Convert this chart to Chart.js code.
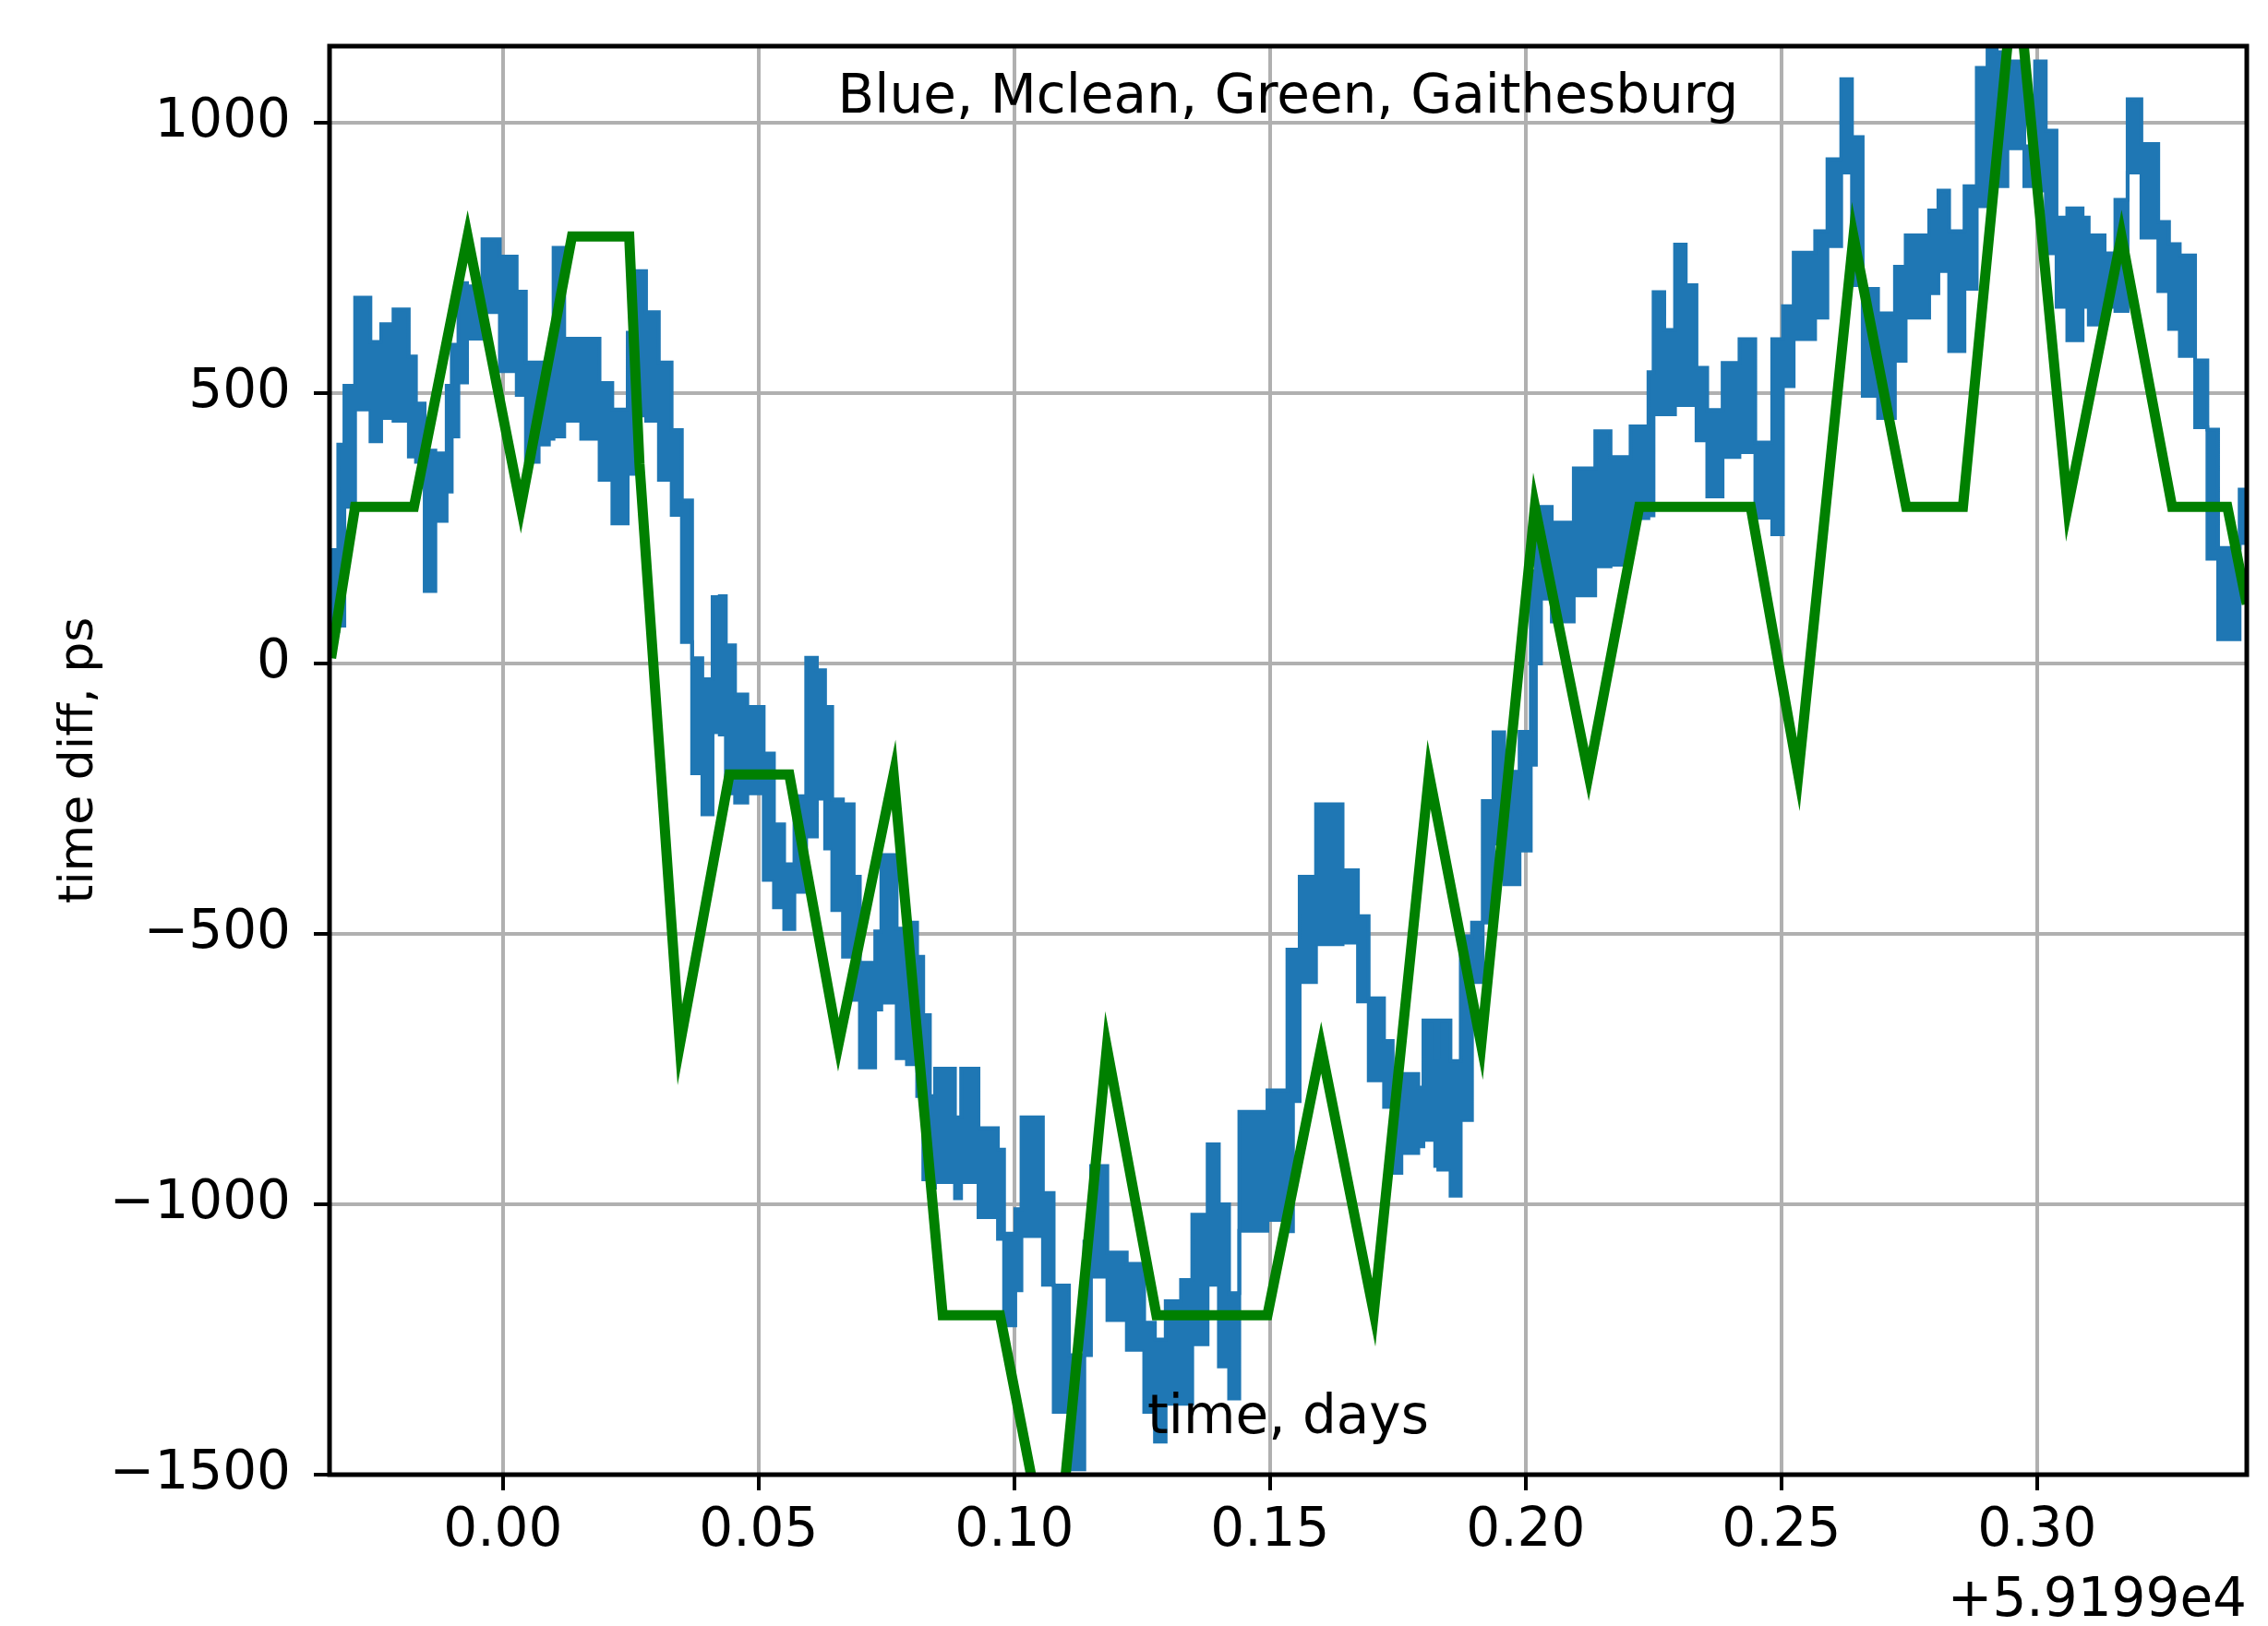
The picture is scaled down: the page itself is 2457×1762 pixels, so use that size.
<!DOCTYPE html>
<html>
<head>
<meta charset="utf-8">
<script src="https://cdn.jsdelivr.net/npm/chart.js@4.4.1/dist/chart.umd.min.js"></script>
<style>
  body { margin: 0; background: #fff; }
  canvas { display: block; }
</style>
</head>
<body>
<canvas id="chart" width="2457" height="1762"></canvas>
<script>
// =====================================================
// DATA  (x in days, offset +5.9199e4 ; y in ps)
// =====================================================

// Mclean (blue) - noisy trace, read as top / bottom of the band per x step
const blueX = [-0.0339, -0.0322, -0.0310, -0.0289, -0.0259, -0.0238, -0.0214, -0.0184, -0.0170, -0.0153,
  -0.0132, -0.0110, -0.0100, -0.0087, -0.0070, -0.0040, -0.0006, 0.0027, 0.0045, 0.0070,
  0.0090, 0.0099, 0.0120, 0.0153, 0.0189, 0.0214, 0.0244, 0.0256, 0.0280, 0.0305,
  0.0330, 0.0350, 0.0370, 0.0390, 0.0410, 0.0424, 0.0436, 0.0454, 0.0478, 0.0510,
  0.0530, 0.0550, 0.0570, 0.0593, 0.0614, 0.0630, 0.0644, 0.0665, 0.0686, 0.0698,
  0.0728, 0.0740, 0.0770, 0.0790, 0.0810, 0.0822, 0.0835, 0.0845, 0.0884, 0.0896,
  0.0930, 0.0968, 0.0980, 0.1002, 0.1014, 0.1056, 0.1077, 0.1107, 0.1137, 0.1150,
  0.1182, 0.1220, 0.1254, 0.1275, 0.1296, 0.1326, 0.1348, 0.1378, 0.1400, 0.1420,
  0.1440, 0.1495, 0.1534, 0.1545, 0.1558, 0.1590, 0.1642, 0.1672, 0.1693, 0.1723,
  0.1740, 0.1757, 0.1790, 0.1800, 0.1823, 0.1829, 0.1853, 0.1873, 0.1895, 0.1916,
  0.1937, 0.1958, 0.1988, 0.2010, 0.2020, 0.2030, 0.2051, 0.2094, 0.2136, 0.2166,
  0.2205, 0.2240, 0.2250, 0.2271, 0.2292, 0.2313, 0.2334, 0.2355, 0.2385, 0.2418,
  0.2449, 0.2482, 0.2503, 0.2524, 0.2566, 0.2590, 0.2617, 0.2638, 0.2659, 0.2689,
  0.2722, 0.2743, 0.2789, 0.2807, 0.2828, 0.2858, 0.2882, 0.2903, 0.2921, 0.2942,
  0.2975, 0.2996, 0.3017, 0.3038, 0.3059, 0.3089, 0.3101, 0.3132, 0.3153, 0.3177,
  0.3204, 0.3237, 0.3258, 0.3279, 0.3309, 0.3333, 0.3354, 0.3396, 0.3410];

const blueHi = [210, 405, 514, 677, 595, 628, 655, 568, 481, 394,
  389, 514, 590, 704, 698, 785, 753, 688, 557, 557,
  580, 769, 601, 601, 519, 470, 612, 726, 650, 557,
  432, 302, 10, -29, 123, 125, 34, -57, -80, -166,
  -297, -371, -245, 11, -12, -80, -251, -260, -394, -553,
  -495, -354, -490, -479, -542, -650, -800, -749, -839, -749,
  -859, -899, -1054, -1009, -839, -979, -1150, -1279, -1069, -929,
  -1089, -1110, -1219, -1250, -1179, -1140, -1019, -889, -1000, -1164,
  -829, -789, -529, -529, -394, -260, -382, -467, -619, -698,
  -760, -759, -784, -660, -729, -660, -735, -504, -479, -254,
  -127, -200, -126, 171, 278, 290, 261, 361, 430, 382,
  439, 539, 687, 617, 775, 700, 547, 469, 556, 600,
  409, 600, 661, 760, 800, 933, 1081, 974, 693, 648,
  734, 792, 838, 875, 800, 883, 1102, 1135, 1131, 1114,
  957, 1114, 986, 825, 842, 825, 792, 759, 858, 1044,
  961, 817, 776, 755, 561, 433, 214, 322, 322];

const blueLo = [60, 70, 290, 470, 411, 454, 449, 383, 373, 134,
  264, 318, 420, 520, 601, 650, 541, 497, 373, 405,
  416, 420, 449, 416, 340, 259, 351, 459, 449, 340,
  275, 40, -203, -279, -127, -131, -240, -257, -240, -400,
  -451, -491, -422, -320, -250, -342, -456, -542, -622, -747,
  -640, -627, -730, -741, -800, -954, -969, -959, -989, -959,
  -1024, -1064, -1224, -1159, -1059, -1149, -1384, -1490, -1279, -1134,
  -1214, -1269, -1384, -1439, -1369, -1369, -1259, -1149, -1300, -1359,
  -1049, -1029, -1050, -809, -589, -519, -516, -625, -771, -820,
  -942, -905, -893, -881, -929, -936, -984, -844, -589, -479,
  -333, -408, -346, -187, 0, 120, 78, 126, 180, 183,
  269, 274, 461, 461, 478, 478, 413, 309, 382, 391,
  270, 239, 513, 600, 640, 772, 908, 700, 495, 454,
  560, 640, 685, 726, 578, 693, 846, 883, 883, 953,
  883, 875, 759, 660, 598, 660, 627, 660, 652, 908,
  788, 689, 619, 569, 437, 194, 45, 223, 223];

// Gaithesburg (green) - piecewise line, vertices
const greenX = [-0.0336, -0.0289, -0.0174, -0.0069, 0.0035, 0.0135, 0.0247, 0.0267, 0.0346, 0.0443,
  0.0560, 0.0656, 0.0764, 0.0860, 0.0972, 0.1078, 0.1181, 0.1278, 0.1495, 0.1600,
  0.1703, 0.1811, 0.1913, 0.2018, 0.2123, 0.2222, 0.2440, 0.2533, 0.2641, 0.2744,
  0.2855, 0.2958, 0.3060, 0.3165, 0.3264, 0.3372, 0.3410];
const greenY = [10, 290, 290, 790, 290, 790, 790, 370, -705, -205,
  -205, -705, -205, -1205, -1205, -1720, -710, -1205, -1205, -710,
  -1200, -205, -705, 290, -205, 290, 290, -205, 790, 290,
  290, 1300, 290, 790, 290, 290, 110];

// axes
const xTicks = [0.00, 0.05, 0.10, 0.15, 0.20, 0.25, 0.30];
const yTicks = [-1500, -1000, -500, 0, 500, 1000];
const xRange = [-0.0339, 0.341];
const yRange = [-1500, 1142];

// texts
const titleText  = 'Blue, Mclean, Green, Gaithesburg';
const xLabel     = 'time, days';
const yLabel     = 'time diff, ps';
const offsetText = '+5.9199e4';

// =====================================================
// DRAWING
// =====================================================

const BLUE  = '#1f77b4';
const GREEN = '#008000';
const FONT  = "'DejaVu Sans'";

// frame + free texts (title / labels sit inside the axes like the original)
const textPlugin = {
  id: 'texts',
  afterDraw(chart) {
    const { ctx, chartArea: a } = chart;
    ctx.save();
    ctx.strokeStyle = '#000';
    ctx.lineWidth = 5;
    ctx.strokeRect(a.left, a.top, a.right - a.left, a.bottom - a.top);

    ctx.fillStyle = '#000';
    ctx.font = `58px ${FONT}`;
    ctx.textAlign = 'center';
    ctx.textBaseline = 'middle';
    const cx = (a.left + a.right) / 2;
    ctx.fillText(titleText, cx, a.top + 57);
    ctx.fillText(xLabel, cx, a.bottom - 60);

    ctx.textAlign = 'right';
    ctx.fillText(offsetText, a.right, a.bottom + 138);

    // rotated y label
    ctx.translate(86, (a.top + a.bottom) / 2);
    ctx.rotate(-Math.PI / 2);
    ctx.textAlign = 'center';
    ctx.font = `52px ${FONT}`;
    ctx.fillText(yLabel, 0, 0);
    ctx.restore();
  }
};

const toPts = (xs, ys) => xs.map((x, i) => ({ x: x, y: ys[i] }));

new Chart(document.getElementById('chart'), {
  type: 'line',
  data: {
    datasets: [
      {
        label: 'Gaithesburg',
        data: toPts(greenX, greenY),
        borderColor: GREEN,
        borderWidth: 11,
        pointRadius: 0,
        fill: false,
        clip: 0,
        order: 0
      },
      {
        label: 'Mclean',
        data: toPts(blueX, blueHi),
        borderColor: BLUE,
        backgroundColor: BLUE,
        borderWidth: 4,
        pointRadius: 0,
        stepped: true,
        fill: '+1',
        clip: 0,
        order: 1
      },
      {
        label: 'Mclean low',
        data: toPts(blueX, blueLo),
        borderColor: BLUE,
        borderWidth: 4,
        pointRadius: 0,
        stepped: true,
        fill: false,
        clip: 0,
        order: 2
      }
    ]
  },
  options: {
    responsive: false,
    animation: false,
    devicePixelRatio: 1,
    layout: { padding: { top: 50, right: 23, left: 0, bottom: 0 } },
    plugins: {
      legend: { display: false },
      tooltip: { enabled: false }
    },
    scales: {
      x: {
        type: 'linear',
        min: xRange[0],
        max: xRange[1],
        afterFit: s => { s.height = 164; s.paddingLeft = 0; s.paddingRight = 0; },
        afterBuildTicks: s => { s.ticks = xTicks.map(v => ({ value: v })); },
        ticks: {
          color: '#000',
          font: { family: FONT, size: 58 },
          padding: 10,
          maxRotation: 0,
          callback: v => v.toFixed(2)
        },
        grid: { color: '#b0b0b0', lineWidth: 4, tickColor: '#000', tickWidth: 4, tickLength: 17 },
        border: { display: false }
      },
      y: {
        type: 'linear',
        min: yRange[0],
        max: yRange[1],
        afterFit: s => { s.width = 357; s.paddingTop = 0; s.paddingBottom = 0; },
        afterBuildTicks: s => { s.ticks = yTicks.map(v => ({ value: v })); },
        ticks: {
          color: '#000',
          font: { family: FONT, size: 58 },
          padding: 25,
          callback: v => v < 0 ? '\u2212' + Math.abs(v) : String(v)
        },
        grid: { color: '#b0b0b0', lineWidth: 4, tickColor: '#000', tickWidth: 4, tickLength: 17 },
        border: { display: false }
      }
    }
  },
  plugins: [textPlugin]
});
</script>
</body>
</html>
